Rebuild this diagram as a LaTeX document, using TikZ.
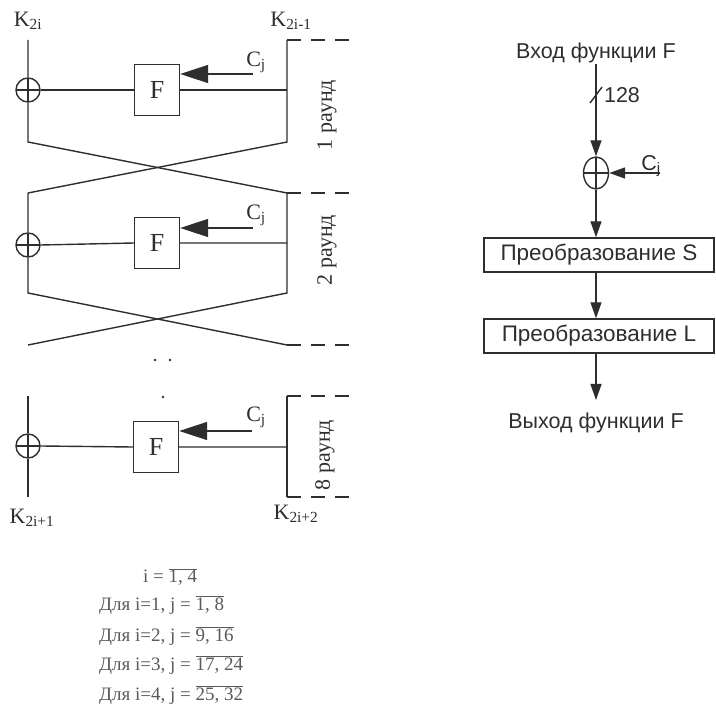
\documentclass[tikz,border=0pt]{standalone}
\usepackage{fontspec}
\setmainfont{Liberation Serif}
\newfontfamily\sansfont{Liberation Sans}
\usepackage{tikz}
\usetikzlibrary{arrows.meta, positioning, shapes.geometric}
\definecolor{Ink}{HTML}{2E2E2E}
\definecolor{FadedInk}{HTML}{5A5A5A}

\begin{document}
\begin{tikzpicture}[x=1pt, y=-1pt,
    wire/.style={color=Ink, line width=1.4pt},
    xorsym/.style={draw=Ink, line width=1.4pt, circle, minimum size=24pt, inner sep=0pt,
        path picture={\draw[Ink, line width=1.4pt] (path picture bounding box.north) -- (path picture bounding box.south)
            (path picture bounding box.west) -- (path picture bounding box.east);}},
    fbox/.style={draw=Ink, line width=1.4pt, minimum width=45pt, minimum height=51pt, inner sep=0pt,
        font=\fontsize{26}{30}\selectfont, text=Ink},
    bigarrow/.style={wire, -{Triangle[length=28pt, width=18pt]}},
    smallarrow/.style={wire, -{Triangle[length=16pt, width=11pt]}},
    serlbl/.style={font=\fontsize{22}{26}\selectfont, text=Ink, inner sep=0pt},
    rndlbl/.style={serlbl, rotate=90},
    roundtick/.style={wire, dash pattern=on 14pt off 10pt},
    sanslbl/.style={font=\sansfont\fontsize{21.5}{25}\selectfont, text=Ink, inner sep=1pt},
    trbox/.style={draw=Ink, line width=1.4pt, minimum width=230pt, minimum height=34pt, inner sep=0pt,
        font=\sansfont\fontsize{22.5}{26}\selectfont, text=Ink},
    condtext/.style={font=\fontsize{19}{22}\selectfont, text=FadedInk, anchor=west, inner sep=0pt}]

    \useasboundingbox (0,0) rectangle (716,708);

    % 1. Round 1
    \coordinate (k2it) at (28,40);
    \coordinate (k2i1t) at (287,40);
    \coordinate (tickend) at (352,0);
    \node[xorsym] (xor1) at (28,90) {};
    \node[fbox] (f1) at (157,90) {F};
    \coordinate (c1) at (253,74);
    \coordinate (l1) at (28,142);
    \coordinate (r1) at (287,142);
    \coordinate (l2) at (28,193);
    \coordinate (r2) at (287,193);
    \draw[wire] (k2it) -- (xor1.north) (xor1.south) -- (l1) -- (r2);
    \draw[wire] (k2i1t) -- (r1) -- (l2);
    \draw[wire] (xor1.east) -- (f1.west) (f1.east) -- (f1.east -| r1);
    \draw[bigarrow] (c1) -- (f1.east |- c1);
    \draw[roundtick] (k2i1t) -- (k2i1t -| tickend);
    \node[serlbl] (k2i) at (28,21) {K\textsubscript{2i}};
    \node[serlbl] (k2i1) at (291,21) {K\textsubscript{2i-1}};
    \node[serlbl] (cj1) at (256,62) {C\textsubscript{j}};
    \node[rndlbl] (rnd1) at (327,115) {1 раунд};

    % 2. Round 2
    \node[xorsym] (xor2) at (28,245) {};
    \node[fbox] (f2) at (157,243) {F};
    \coordinate (c2) at (253,228);
    \coordinate (l3) at (28,293);
    \coordinate (r3) at (287,293);
    \coordinate (l4) at (28,345);
    \coordinate (r4) at (287,345);
    \draw[wire] (l2) -- (xor2.north) (xor2.south) -- (l3) -- (r4);
    \draw[wire] (r2) -- (r3) -- (l4);
    \draw[wire] (xor2.east) -- (f2.west) (f2.east) -- (f2.east -| r2);
    \draw[bigarrow] (c2) -- (f2.east |- c2);
    \draw[roundtick] (r2) -- (r2 -| tickend);
    \draw[roundtick] (r4) -- (r4 -| tickend);
    \node[serlbl] (cj2) at (256,215) {C\textsubscript{j}};
    \node[rndlbl] (rnd2) at (327,250) {2 раунд};

    % 3. Skipped rounds
    \fill[Ink] (155,360) circle (1.4pt) (170,360) circle (1.4pt) (163,397) circle (1.4pt);

    % 4. Round 8
    \coordinate (l5) at (28,396);
    \coordinate (r5) at (287,396);
    \coordinate (l6) at (28,497);
    \coordinate (r6) at (287,497);
    \node[xorsym] (xor3) at (28,446) {};
    \node[fbox] (f3) at (156,447) {F};
    \coordinate (c3) at (252,431);
    \draw[wire] (l5) -- (xor3.north) (xor3.south) -- (l6);
    \draw[wire] (r5) -- (r6);
    \draw[wire] (xor3.east) -- (f3.west) (f3.east) -- (f3.east -| r5);
    \draw[bigarrow] (c3) -- (f3.east |- c3);
    \draw[roundtick] (r5) -- (r5 -| tickend);
    \draw[roundtick] (r6) -- (r6 -| tickend);
    \node[serlbl] (cj3) at (256,417) {C\textsubscript{j}};
    \node[rndlbl] (rnd8) at (325,455) {8 раунд};
    \node[serlbl] (k2i2) at (32,518) {K\textsubscript{2i+1}};
    \node[serlbl] (k2i3) at (296,514) {K\textsubscript{2i+2}};

    % 5. Function F
    \node[sanslbl] (fin) at (596,53) {Вход функции F};
    \node[draw=Ink, line width=1.4pt, ellipse, minimum width=25pt, minimum height=32pt, inner sep=0pt,
        path picture={\draw[Ink, line width=1.4pt] (path picture bounding box.north) -- (path picture bounding box.south)
            (path picture bounding box.west) -- (path picture bounding box.east);}] (xor4) at (596,173) {};
    \coordinate (c4) at (660,173);
    \coordinate (bus1) at (590,103);
    \coordinate (bus2) at (602,87);
    \node[trbox] (ts) at (599,255) {Преобразование S};
    \node[trbox] (tl) at (599,336) {Преобразование L};
    \coordinate (fend) at (596,400);
    \node[sanslbl] (fout) at (596,423) {Выход функции F};
    \draw[smallarrow] (fin.south) -- (xor4.north);
    \draw[wire] (bus1) -- (bus2);
    \node[sanslbl] (bits) at (622,95) {128};
    \draw[smallarrow] (c4) -- (xor4.east);
    \node[sanslbl] (cj4) at (651,166) {C\textsubscript{j}};
    \draw[smallarrow] (xor4.south) -- (xor4.south |- ts.north);
    \draw[smallarrow] (xor4 |- ts.south) -- (xor4 |- tl.north);
    \draw[smallarrow] (xor4 |- tl.south) -- (fend);

    % 6. Index ranges
    \node[condtext] (irange) at (143,577) {i = $\overline{\mbox{1, 4}}$};
    \node[condtext] (jr1) at (99,605) {Для i=1, j = $\overline{\mbox{1, 8}}$};
    \node[condtext] (jr2) at (99,636) {Для i=2, j = $\overline{\mbox{9, 16}}$};
    \node[condtext] (jr3) at (99,665) {Для i=3, j = $\overline{\mbox{17, 24}}$};
    \node[condtext] (jr4) at (99,695) {Для i=4, j = $\overline{\mbox{25, 32}}$};
\end{tikzpicture}
\end{document}
